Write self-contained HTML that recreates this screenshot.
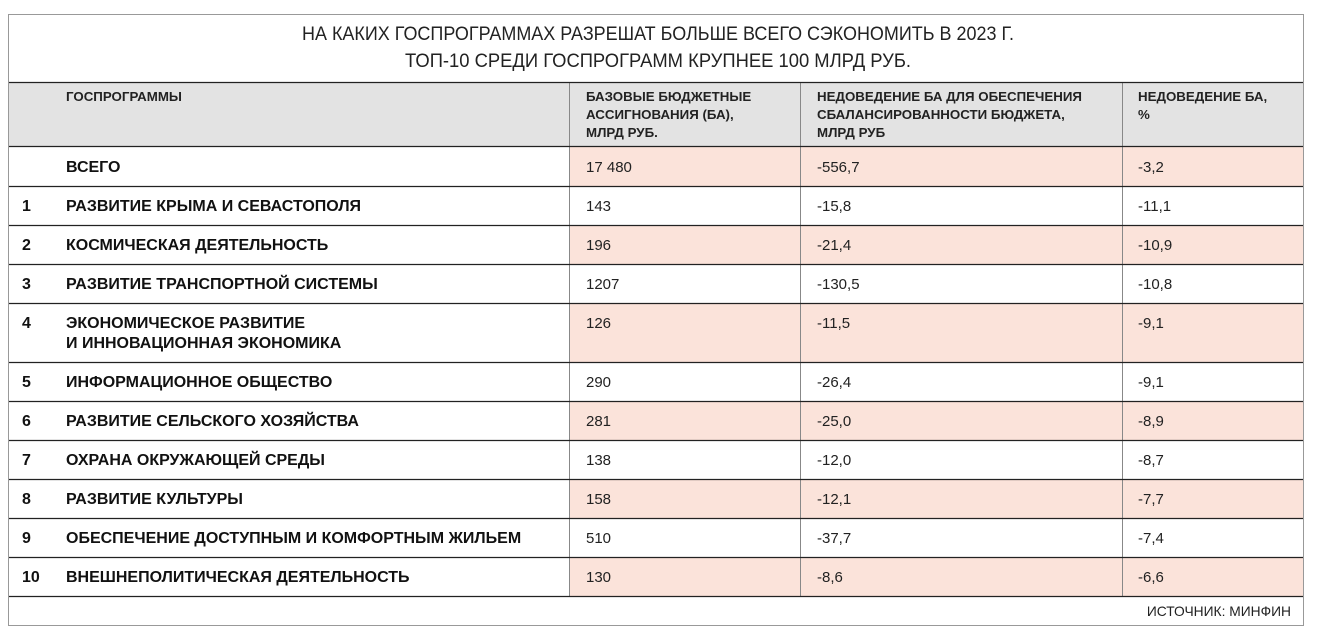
<!DOCTYPE html>
<html><head><meta charset="utf-8"><style>
body{margin:0;background:#fff;}
svg{display:block;font-family:"Liberation Sans","DejaVu Sans",sans-serif;}
.n{font-size:16px;font-weight:bold;fill:#111;}
.v{font-size:15px;fill:#222;}
.h{font-size:13.3px;font-weight:bold;fill:#222;}
</style></head><body>
<svg width="1319" height="639" viewBox="0 0 1319 639">
<rect x="8.5" y="14.5" width="1295" height="611" fill="#fff" stroke="#999"/>
<rect x="9" y="82" width="1294" height="64" fill="#e3e3e3"/>
<g fill="#fbe3da">
<rect x="569" y="146" width="734" height="40"/>
<rect x="569" y="225" width="734" height="39"/>
<rect x="569" y="303" width="734" height="59"/>
<rect x="569" y="401" width="734" height="39"/>
<rect x="569" y="479" width="734" height="39"/>
<rect x="569" y="557" width="734" height="39"/>
</g>
<g stroke="#888" stroke-width="1">
<line x1="569.5" y1="82" x2="569.5" y2="596"/>
<line x1="800.5" y1="82" x2="800.5" y2="596"/>
<line x1="1122.5" y1="82" x2="1122.5" y2="596"/>
</g>
<g stroke="#222" stroke-width="1.2">
<line x1="9" y1="82.5" x2="1303" y2="82.5"/>
<line x1="9" y1="146.5" x2="1303" y2="146.5"/>
<line x1="9" y1="186.5" x2="1303" y2="186.5"/>
<line x1="9" y1="225.5" x2="1303" y2="225.5"/>
<line x1="9" y1="264.5" x2="1303" y2="264.5"/>
<line x1="9" y1="303.5" x2="1303" y2="303.5"/>
<line x1="9" y1="362.5" x2="1303" y2="362.5"/>
<line x1="9" y1="401.5" x2="1303" y2="401.5"/>
<line x1="9" y1="440.5" x2="1303" y2="440.5"/>
<line x1="9" y1="479.5" x2="1303" y2="479.5"/>
<line x1="9" y1="518.5" x2="1303" y2="518.5"/>
<line x1="9" y1="557.5" x2="1303" y2="557.5"/>
<line x1="9" y1="596.5" x2="1303" y2="596.5"/>
</g>
<text x="658" y="40" text-anchor="middle" font-size="19" fill="#222" textLength="712" lengthAdjust="spacingAndGlyphs">НА КАКИХ ГОСПРОГРАММАХ РАЗРЕШАТ БОЛЬШЕ ВСЕГО СЭКОНОМИТЬ В 2023 Г.</text>
<text x="658" y="67" text-anchor="middle" font-size="19" fill="#222" textLength="506" lengthAdjust="spacingAndGlyphs">ТОП-10 СРЕДИ ГОСПРОГРАММ КРУПНЕЕ 100 МЛРД РУБ.</text>
<text class="h" x="66" y="101">ГОСПРОГРАММЫ</text>
<text class="h" x="586" y="101">БАЗОВЫЕ БЮДЖЕТНЫЕ</text>
<text class="h" x="586" y="119">АССИГНОВАНИЯ (БА),</text>
<text class="h" x="586" y="137">МЛРД РУБ.</text>
<text class="h" x="817" y="101">НЕДОВЕДЕНИЕ БА ДЛЯ ОБЕСПЕЧЕНИЯ</text>
<text class="h" x="817" y="119">СБАЛАНСИРОВАННОСТИ БЮДЖЕТА,</text>
<text class="h" x="817" y="137">МЛРД РУБ</text>
<text class="h" x="1138" y="101">НЕДОВЕДЕНИЕ БА,</text>
<text class="h" x="1138" y="119">%</text>
<g class="n">
<text x="66" y="172">ВСЕГО</text>
<text x="22" y="211">1</text><text x="66" y="211">РАЗВИТИЕ КРЫМА И СЕВАСТОПОЛЯ</text>
<text x="22" y="250">2</text><text x="66" y="250">КОСМИЧЕСКАЯ ДЕЯТЕЛЬНОСТЬ</text>
<text x="22" y="289">3</text><text x="66" y="289">РАЗВИТИЕ ТРАНСПОРТНОЙ СИСТЕМЫ</text>
<text x="22" y="328">4</text><text x="66" y="328">ЭКОНОМИЧЕСКОЕ РАЗВИТИЕ</text>
<text x="66" y="348">И ИННОВАЦИОННАЯ ЭКОНОМИКА</text>
<text x="22" y="387">5</text><text x="66" y="387">ИНФОРМАЦИОННОЕ ОБЩЕСТВО</text>
<text x="22" y="426">6</text><text x="66" y="426">РАЗВИТИЕ СЕЛЬСКОГО ХОЗЯЙСТВА</text>
<text x="22" y="465">7</text><text x="66" y="465">ОХРАНА ОКРУЖАЮЩЕЙ СРЕДЫ</text>
<text x="22" y="504">8</text><text x="66" y="504">РАЗВИТИЕ КУЛЬТУРЫ</text>
<text x="22" y="543">9</text><text x="66" y="543">ОБЕСПЕЧЕНИЕ ДОСТУПНЫМ И КОМФОРТНЫМ ЖИЛЬЕМ</text>
<text x="22" y="582">10</text><text x="66" y="582">ВНЕШНЕПОЛИТИЧЕСКАЯ ДЕЯТЕЛЬНОСТЬ</text>
</g>
<g class="v">
<text x="586" y="172">17 480</text><text x="817" y="172">-556,7</text><text x="1138" y="172">-3,2</text>
<text x="586" y="211">143</text><text x="817" y="211">-15,8</text><text x="1138" y="211">-11,1</text>
<text x="586" y="250">196</text><text x="817" y="250">-21,4</text><text x="1138" y="250">-10,9</text>
<text x="586" y="289">1207</text><text x="817" y="289">-130,5</text><text x="1138" y="289">-10,8</text>
<text x="586" y="328">126</text><text x="817" y="328">-11,5</text><text x="1138" y="328">-9,1</text>
<text x="586" y="387">290</text><text x="817" y="387">-26,4</text><text x="1138" y="387">-9,1</text>
<text x="586" y="426">281</text><text x="817" y="426">-25,0</text><text x="1138" y="426">-8,9</text>
<text x="586" y="465">138</text><text x="817" y="465">-12,0</text><text x="1138" y="465">-8,7</text>
<text x="586" y="504">158</text><text x="817" y="504">-12,1</text><text x="1138" y="504">-7,7</text>
<text x="586" y="543">510</text><text x="817" y="543">-37,7</text><text x="1138" y="543">-7,4</text>
<text x="586" y="582">130</text><text x="817" y="582">-8,6</text><text x="1138" y="582">-6,6</text>
</g>
<text x="1291" y="616" text-anchor="end" font-size="13.8" fill="#222">ИСТОЧНИК: МИНФИН</text>
</svg>
</body></html>
